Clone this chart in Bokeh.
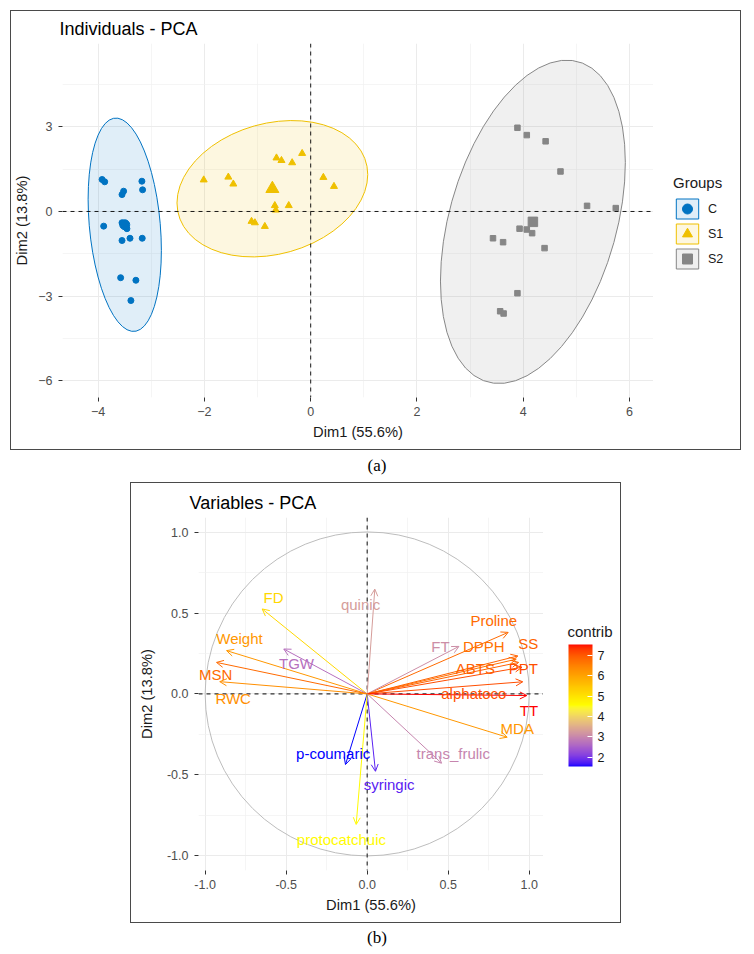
import numpy as np
from bokeh.plotting import figure
from bokeh.models import (ColumnDataSource, Span, Legend, LegendItem, FixedTicker,
                          LinearColorMapper, ColorBar, Arrow, OpenHead, Div, Label, LabelSet)
from bokeh.layouts import column, row
from bokeh.transform import linear_cmap
from bokeh.core.properties import value
from bokeh.embed import file_html
from bokeh.resources import INLINE

FONT = "Liberation Sans"

# ---------------- individuals (PCA scores on Dim1 / Dim2) ----------------
groups = ["C", "S1", "S2"]
group_colors = ["#0073C2", "#EFC000", "#868686"]
group_markers = ["circle", "triangle", "square"]

c_dim1 = [-3.925, -3.876, -3.176, -3.163, -3.520, -3.550, -3.895, -3.458,
          -3.550, -3.400, -3.170, -3.576, -3.289, -3.383, -3.550]
c_dim2 = [1.135, 1.053, 1.074, 0.769, 0.720, 0.600, -0.520, -0.610,
          -1.030, -0.950, -0.950, -2.350, -2.440, -3.160, -0.400]

s1_dim1 = [-2.013, -1.550, -1.456, -0.644, -0.550, -0.161, -0.349, 0.238,
           0.438, -0.675, -0.657, -0.413, -1.113, -0.863, -1.050]
s1_dim2 = [1.12, 1.22, 0.975, 1.90, 1.81, 2.06, 1.73, 1.21,
           0.89, 0.21, 0.05, 0.21, -0.35, -0.53, -0.40]

s2_dim1 = [3.89, 4.066, 4.42, 4.70, 5.20, 5.74, 3.93, 4.066,
           4.166, 3.43, 3.62, 4.40, 3.89, 3.565, 3.63]
s2_dim2 = [2.97, 2.71, 2.49, 1.42, 0.20, 0.12, -0.61, -0.64,
           -0.77, -0.95, -1.09, -1.30, -2.90, -3.54, -3.62]

ind_x_ticks = [-4, -2, 0, 2, 4, 6]
ind_y_ticks = [-6, -3, 0, 3]

# ---------------- variables (loadings on Dim1 / Dim2) ----------------
var_names = ["FD", "quinic", "Weight", "TGW", "MSN", "RWC", "p-coumaric", "syringic",
             "protocatchuic", "Proline", "FT", "DPPH", "SS", "ABTS", "PPT",
             "alphatoco", "TT", "MDA", "trans_frulic"]
var_dim1 = [-0.648, 0.047, -0.868, -0.515, -0.930, -0.910, -0.134, 0.051,
            -0.068, 0.870, 0.566, 0.920, 0.930, 0.935, 0.955,
            0.960, 0.985, 0.864, 0.459]
var_dim2 = [0.526, 0.649, 0.268, 0.278, 0.195, 0.076, -0.437, -0.479,
            -0.808, 0.381, 0.294, 0.215, 0.235, 0.195, 0.165,
            0.075, -0.010, -0.268, -0.429]
var_contrib = [5.2, 3.3, 6.2, 2.7, 6.8, 6.3, 1.55, 1.8,
               4.6, 6.8, 3.1, 6.7, 6.9, 6.9, 7.1,
               7.1, 7.54, 6.2, 3.0]
# repelled label anchors
lab_dim1 = [-0.578, -0.041, -0.788, -0.436, -0.935, -0.827, -0.210, 0.135,
            -0.159, 0.781, 0.452, 0.720, 0.994, 0.668, 0.963,
            0.658, 0.998, 0.926, 0.531]
lab_dim2 = [0.596, 0.552, 0.340, 0.189, 0.119, -0.031, -0.371, -0.563,
            -0.901, 0.453, 0.293, 0.293, 0.309, 0.155, 0.155,
            0.000, -0.103, -0.216, -0.371]

var_ticks = [-1.0, -0.5, 0.0, 0.5, 1.0]
var_tick_labels = ["-1.0", "-0.5", "0.0", "0.5", "1.0"]
contrib_ticks = [2, 3, 4, 5, 6, 7]


# ---------------- helpers ----------------
def norm_ellipse(x, y, level=0.95, segments=51):
    """95% normal-theory ellipse around a group of points."""
    pts = np.column_stack([x, y])
    n = len(pts)
    center = pts.mean(axis=0)
    cov = np.cov(pts.T)
    df2 = n - 1
    fq = df2 / 2.0 * ((1 - level) ** (-2.0 / df2) - 1)  # F(level; 2, n-1)
    radius = np.sqrt(2 * fq)
    upper = np.linalg.cholesky(cov).T
    ang = np.linspace(0, 2 * np.pi, segments)
    unit = np.column_stack([np.cos(ang), np.sin(ang)])
    e = center + radius * unit @ upper
    return e[:, 0], e[:, 1]


def _srgb_to_lab(rgb):
    c = np.asarray(rgb, float)
    lin = np.where(c <= 0.04045, c / 12.92, ((c + 0.055) / 1.055) ** 2.4)
    m = np.array([[0.4124564, 0.3575761, 0.1804375],
                  [0.2126729, 0.7151522, 0.0721750],
                  [0.0193339, 0.1191920, 0.9503041]])
    xyz = m @ lin / np.array([0.95047, 1.0, 1.08883])
    d = 6 / 29
    f = np.where(xyz > d ** 3, np.cbrt(xyz), xyz / (3 * d * d) + 4 / 29)
    return np.array([116 * f[1] - 16, 500 * (f[0] - f[1]), 200 * (f[1] - f[2])])


def _lab_to_hex(lab):
    L, a, b = lab
    fy = (L + 16) / 116
    fx = fy + a / 500
    fz = fy - b / 200
    d = 6 / 29
    f = np.array([fx, fy, fz])
    xyz = np.where(f > d, f ** 3, 3 * d * d * (f - 4 / 29)) * np.array([0.95047, 1.0, 1.08883])
    mi = np.array([[3.2404542, -1.5371385, -0.4985314],
                   [-0.9692660, 1.8760108, 0.0415560],
                   [0.0556434, -0.2040259, 1.0572252]])
    lin = np.clip(mi @ xyz, 0, 1)
    c = np.where(lin <= 0.0031308, 12.92 * lin, 1.055 * lin ** (1 / 2.4) - 0.055)
    c = np.clip(np.round(c * 255), 0, 255).astype(int)
    return "#%02x%02x%02x" % tuple(c)


def lab_ramp(hex_colors, n=256):
    labs = [_srgb_to_lab([int(h[i:i + 2], 16) / 255 for i in (1, 3, 5)]) for h in hex_colors]
    stops = np.linspace(0, 1, len(labs))
    out = []
    for t in np.linspace(0, 1, n):
        k = min(np.searchsorted(stops, t, side="right") - 1, len(labs) - 2)
        u = (t - stops[k]) / (stops[k + 1] - stops[k])
        out.append(_lab_to_hex(labs[k] * (1 - u) + labs[k + 1] * u))
    return out


def style_axes(p, xticks, yticks, xminor, yminor, xlabels=None, ylabels=None):
    p.xaxis.ticker = FixedTicker(ticks=xticks, minor_ticks=xminor)
    p.yaxis.ticker = FixedTicker(ticks=yticks, minor_ticks=yminor)
    if xlabels:
        p.xaxis.major_label_overrides = {float(t): l for t, l in zip(xticks, xlabels)}
    if ylabels:
        p.yaxis.major_label_overrides = {float(t): l for t, l in zip(yticks, ylabels)}
    for ax in (p.xaxis, p.yaxis):
        ax.axis_line_color = None
        ax.major_tick_line_color = "#333333"
        ax.major_tick_in = 0
        ax.major_tick_out = 4
        ax.minor_tick_line_color = None
        ax.major_label_text_font = FONT
        ax.major_label_text_font_size = "12.5px"
        ax.major_label_text_color = "#4D4D4D"
        ax.axis_label_text_font = FONT
        ax.axis_label_text_font_size = "14.7px"
        ax.axis_label_text_font_style = "normal"
        ax.axis_label_text_color = "#1A1A1A"
        ax.axis_label_standoff = 5
    p.xaxis.major_label_standoff = 5
    p.yaxis.major_label_standoff = 6
    for g in (p.xgrid, p.ygrid):
        g.grid_line_color = "#EBEBEB"
        g.grid_line_width = 1
        g.minor_grid_line_color = "#F0F0F0"
        g.minor_grid_line_width = 0.7
    p.outline_line_color = None
    p.title.text_font = FONT
    p.title.text_font_size = "18px"
    p.title.text_font_style = "normal"
    p.title.text_color = "#000000"


def side_panel(w, h, frame_h, origin=0):
    """Blank strip beside a plot panel that holds its legend / colour key.
    Its frame lines up with the neighbouring plot frame; ranges are in pixels."""
    s = figure(width=w, height=h, x_range=(origin, origin + w),
               y_range=(origin, origin + frame_h),
               output_backend="svg", toolbar_location=None,
               min_border=0, x_axis_type=None, y_axis_type=None)
    s.grid.visible = False
    s.outline_line_color = None
    return s


FRAME = {"border": "1px solid #4a4a4a"}

# ================= (a) Individuals - PCA =================
p1 = figure(width=642, height=438, x_range=(-4.67, 6.45), y_range=(-6.6, 5.96),
            title="Individuals - PCA", output_backend="svg", toolbar_location=None,
            min_border_left=49, min_border_right=0, min_border_top=32, min_border_bottom=52,
            x_axis_label="Dim1 (55.6%)", y_axis_label="Dim2 (13.8%)")
style_axes(p1, ind_x_ticks, ind_y_ticks, [-3, -1, 1, 3, 5], [-4.5, -1.5, 1.5, 4.5])
p1.title.offset = -3

group_x = [c_dim1, s1_dim1, s2_dim1]
group_y = [c_dim2, s1_dim2, s2_dim2]
point_sizes = [6, 7, 5.5]
mean_sizes = [10, 13, 9.5]

# legend strip: its range sits far away from the scores, so the key glyphs
# below only show up inside the legend boxes
leg1 = side_panel(87, 438, 354, origin=1000)
legend_items = []
for g, col, mk, gx, gy, ps, ms in zip(groups, group_colors, group_markers,
                                      group_x, group_y, point_sizes, mean_sizes):
    ex, ey = norm_ellipse(gx, gy)
    p1.patch(ex, ey, fill_color=col, fill_alpha=0.12, line_color=col, line_width=1)
    src = ColumnDataSource(dict(x=gx, y=gy))
    p1.scatter("x", "y", source=src, marker=mk, size=ps, fill_color=col, line_color=col)
    p1.scatter([float(np.mean(gx))], [float(np.mean(gy))], marker=mk, size=ms,
               fill_color=col, line_color=col)
    k_patch = leg1.patch(ex, ey, fill_color=col, fill_alpha=0.12, line_color=col, line_width=1)
    k_pts = leg1.scatter("x", "y", source=src, marker=mk, size=ps,
                         fill_color=col, line_color=col)
    legend_items.append(LegendItem(label=g, renderers=[k_patch, k_pts]))

for dim in ("width", "height"):
    p1.add_layout(Span(location=0, dimension=dim, line_color="#000000",
                       line_width=0.9, line_dash="4 4"))

legend = Legend(items=legend_items, location=(20, 126), title="Groups",
                glyph_width=28, glyph_height=25, spacing=0, padding=0, margin=0,
                label_standoff=7, label_height=25,
                label_text_font=FONT, label_text_font_size="12.5px",
                label_text_color="#1A1A1A",
                title_text_font=FONT, title_text_font_size="15px",
                title_text_font_style="normal", title_text_color="#1A1A1A",
                title_standoff=5, border_line_color=None, background_fill_alpha=0)
leg1.add_layout(legend)

panel_a = row(p1, leg1, styles=FRAME, margin=(10, 0, 0, 10))

div_a = Div(text='<div style="width:754px;text-align:center;font-family:\'Liberation Serif\';'
                 'font-size:17px;line-height:32px;color:#000">(a)</div>',
            width=754, height=32, margin=0)

# ================= (b) Variables - PCA =================
p2 = figure(width=412, height=439, x_range=(-1.041, 1.088), y_range=(-1.093, 1.092),
            title="Variables - PCA", output_backend="svg", toolbar_location=None,
            min_border_left=67, min_border_right=0, min_border_top=34, min_border_bottom=52,
            x_axis_label="Dim1 (55.6%)", y_axis_label="Dim2 (13.8%)")
style_axes(p2, var_ticks, var_ticks, [-0.75, -0.25, 0.25, 0.75], [-0.75, -0.25, 0.25, 0.75],
           var_tick_labels, var_tick_labels)
p2.yaxis.axis_label_standoff = 9
p2.title.offset = -9

p2.circle(x=0, y=0, radius=1, fill_color=None, line_color="#BDBDBD", line_width=1)
for dim in ("width", "height"):
    p2.add_layout(Span(location=0, dimension=dim, line_color="#333333",
                       line_width=1.2, line_dash="4 4"))

palette = lab_ramp(["#0000FF", "#FFFF00", "#FF0000"], 256)
c_low, c_high = min(var_contrib), max(var_contrib)
cmap = linear_cmap("contrib", palette, c_low, c_high)

vsrc = ColumnDataSource(dict(x=var_dim1, y=var_dim2, contrib=var_contrib,
                             name=var_names, lx=lab_dim1, ly=lab_dim2))
p2.add_layout(Arrow(end=OpenHead(size=7, line_color=cmap, line_width=1),
                    x_start=0, y_start=0, x_end="x", y_end="y", source=vsrc,
                    line_color=cmap, line_width=1))
p2.add_layout(LabelSet(x="lx", y="ly", text="name", source=vsrc, text_color=cmap,
                       text_font=value(FONT), text_font_size=value("15px"),
                       text_align="center", text_baseline="middle"))

leg2 = side_panel(77, 439, 353)
mapper = LinearColorMapper(palette=palette, low=c_low, high=c_high)
cbar = ColorBar(color_mapper=mapper, ticker=FixedTicker(ticks=contrib_ticks),
                orientation="vertical", width=24, height=122, location=(25, 104),
                padding=0, margin=0,
                major_label_text_font=FONT, major_label_text_font_size="12.5px",
                major_label_text_color="#1A1A1A", label_standoff=5,
                major_tick_line_color="#FFFFFF", major_tick_in=5, major_tick_out=0,
                minor_tick_line_color=None, bar_line_color=None,
                border_line_color=None, background_fill_alpha=0)
leg2.add_layout(cbar)
leg2.add_layout(Label(x=24, y=239, text="contrib", text_font=FONT,
                      text_font_size="15px", text_color="#1A1A1A",
                      text_align="left", text_baseline="middle"))

panel_b = row(p2, leg2, styles=FRAME, margin=(0, 0, 0, 130))

div_b = Div(text='<div style="width:754px;text-align:center;font-family:\'Liberation Serif\';'
                 'font-size:17px;line-height:30px;color:#000">(b)</div>',
            width=754, height=30, margin=0)

layout = column(panel_a, div_a, panel_b, div_b)
open("out.html", "w").write(file_html(layout, INLINE))
